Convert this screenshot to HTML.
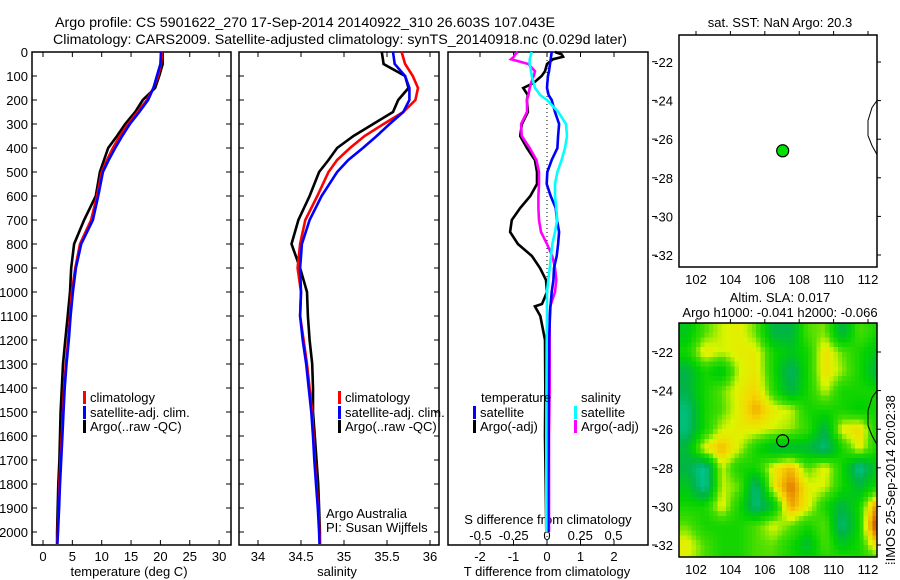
<!DOCTYPE html>
<html><head><meta charset="utf-8"><style>
html,body{margin:0;padding:0;background:#fff;}
svg{display:block;font-family:"Liberation Sans",sans-serif;}
text{fill:#000;}
</style></head><body>
<svg id="fig" width="900" height="580" viewBox="0 0 900 580" xmlns="http://www.w3.org/2000/svg">
<defs>
<clipPath id="mapclip"><rect x="679" y="323" width="198" height="234"/></clipPath>
</defs>
<text x="55" y="27" font-size="14" textLength="500" lengthAdjust="spacingAndGlyphs">Argo profile: CS 5901622_270 17-Sep-2014 20140922_310 26.603S 107.043E</text>
<text x="53" y="44" font-size="14" textLength="574" lengthAdjust="spacingAndGlyphs">Climatology: CARS2009. Satellite-adjusted climatology: synTS_20140918.nc (0.029d later)</text>
<g id="g1"></g>
<g id="g2"></g>
<g id="g3"></g>
<g id="g4"></g>
<g id="g5"></g>
<text font-size="13" transform="translate(895,565) rotate(-90)">⁞IMOS 25-Sep-2014 20:02:38</text>
</svg>
<script>
const depths=[0,50,100,150,200,250,300,350,400,450,500,600,700,800,900,1000,1100,1200,1300,1400,1500,1600,1700,1800,1900,2000,2050];
const tempArgo=[20.4,20.4,19.8,19.1,17.0,15.7,14.0,12.6,11.1,10.4,9.7,9.0,7.0,5.3,4.8,4.6,4.2,3.8,3.4,3.2,3.0,2.9,2.8,2.6,2.5,2.4,2.4];
const tempClim=[20.3,20.1,19.6,18.8,17.7,16.1,14.5,13.1,11.9,10.9,10.0,9.2,8.2,6.3,5.5,4.9,4.6,4.3,3.9,3.6,3.4,3.2,3.0,2.8,2.7,2.5,2.4];
const tempSat=[20.1,20.0,19.4,18.8,17.9,16.4,14.8,13.5,12.3,11.2,10.2,9.4,8.5,6.5,5.6,5.1,4.7,4.4,4.0,3.7,3.5,3.3,3.1,2.9,2.75,2.55,2.45];
const salArgo=[35.44,35.46,35.71,35.75,35.63,35.57,35.34,35.11,34.92,34.82,34.71,34.60,34.47,34.39,34.49,34.57,34.58,34.60,34.63,34.64,34.64,34.66,34.68,34.70,34.71,34.72,34.72];
const salClim=[35.67,35.71,35.80,35.86,35.83,35.69,35.46,35.24,35.07,34.92,34.82,34.69,34.55,34.49,34.46,34.50,34.49,34.53,34.57,34.60,34.63,34.645,34.66,34.68,34.70,34.715,34.72];
const salSat=[35.57,35.59,35.71,35.76,35.76,35.69,35.53,35.38,35.22,35.05,34.92,34.74,34.60,34.51,34.49,34.50,34.49,34.52,34.56,34.59,34.62,34.64,34.655,34.675,34.695,34.71,34.715];
const diffDepths=[0,10,20,30,50,80,100,130,150,180,200,250,300,350,400,450,500,550,600,650,700,750,800,850,900,950,1000,1050,1060,1100,1200,1400,1600,1800,2000];
const tDiffArgo=[0.24,0.44,0.48,0.18,0,-0.06,-0.16,-0.41,-0.71,-0.57,-0.6,-0.57,-0.75,-0.8,-0.6,-0.36,-0.3,-0.3,-0.5,-0.8,-1.05,-1.1,-0.87,-0.45,-0.21,-0.03,0,-0.15,-0.36,-0.2,-0.06,-0.05,-0.06,-0.04,-0.02];
const tDiffSat=[0.14,0.13,0.12,0.11,0.09,0.06,0.03,0.01,0,0.05,0.14,0.24,0.36,0.33,0.31,0.14,0.01,-0.01,0.11,0.26,0.3,0.36,0.33,0.29,0.21,0.19,0.14,0.11,0.1,0.09,0.06,0.05,0.05,0.04,0.04];
const sDiffSat=[-0.115,-0.12,-0.125,-0.13,-0.13,-0.12,-0.115,-0.1,-0.09,-0.05,0,0.085,0.143,0.15,0.135,0.11,0.078,0.06,0.06,0.07,0.077,0.06,0.04,0.03,0.02,0.01,0,0,0,0,-0.002,-0.004,-0.005,-0.005,-0.005];
const sDiffArgo=[-0.22,-0.24,-0.25,-0.27,-0.14,-0.09,-0.1,-0.12,-0.13,-0.14,-0.15,-0.15,-0.195,-0.19,-0.13,-0.08,-0.06,-0.06,-0.065,-0.065,-0.06,-0.045,0,0.04,0.06,0.07,0.06,0.03,0.025,0.02,0.02,0.02,0.015,0.015,0.015];
const tempTicks=[0,5,10,15,20,25,30];
const salTicks=[34,34.5,35,35.5,36];
const salTickLabels=["34","34.5","35","35.5","36"];
const tDiffTicks=[-2,-1,0,1,2];
const sDiffTicks=[-0.5,-0.25,0,0.25,0.5];
const sDiffTickLabels=["-0.5","-0.25","0","0.25","0.5"];
const depthTicks=[0,100,200,300,400,500,600,700,800,900,1000,1100,1200,1300,1400,1500,1600,1700,1800,1900,2000];
const lonTicks=[102,104,106,108,110,112];
const latTicks=[22,24,26,28,30,32];
const argoLon=107.04, argoLat=26.6;
const slaLats=[21,22,23,24,25,26,27,28,29,30,31,32,33];
const slaLons=[101.5,102.5,103.5,104.5,105.5,106.5,107.5,108.5,109.5,110.5,111.5,112.5];
const slaRow0=[-0.5,0.5,1.0,1.2,0.6,-1,-1,0.5,0.7,-1,0.5,0];
const slaRow1=[0,1.3,1.0,1.2,1.2,0,-0.5,0,1.4,0.6,0,-0.5];
const slaRow2=[-1,0,-0.5,1.0,1.3,0,-1.3,0,1.4,0.8,0,-1];
const slaRow3=[-1,0,0.6,1.2,1.5,0.2,-1,0,1,0,0,0];
const slaRow4=[-1.5,0,0.5,1.2,1.9,1.2,1,0,0,0,-0.3,0];
const slaRow5=[-1.5,0,1,1.2,1.2,1.0,0.8,0.3,-1,1.2,1.5,0];
const slaRow6=[-0.8,1.2,1.8,1,0,-0.8,-0.8,-0.8,-1.5,0,1.2,0];
const slaRow7=[-1,-1.8,1,0,0,1.2,1.8,0.5,1.2,0,-1.8,-0.5];
const slaRow8=[-0.5,-1.8,1,0.6,-1.5,1.2,2.4,1.2,1,0,-0.8,0];
const slaRow9=[0,0,1.2,0,-1.5,-0.5,2,1.2,0,-1,0,2.2];
const slaRow10=[0.6,0,0,0,0.5,1.1,0.6,0,0.6,-1.5,0,3];
const slaRow11=[1.2,0.5,0,0,0.5,0.6,0,-0.8,0.5,-0.5,0,1.5];
const slaRow12=[1,0.5,0,0,0.5,0.5,0,0,0,0.5,0,0];
const slaGrid=[slaRow0,slaRow1,slaRow2,slaRow3,slaRow4,slaRow5,slaRow6,slaRow7,slaRow8,slaRow9,slaRow10,slaRow11,slaRow12];

const NS='http://www.w3.org/2000/svg';
function mk(p,tag,at,txt){const e=document.createElementNS(NS,tag);for(const k in at)e.setAttribute(k,at[k]);if(txt!==undefined)e.textContent=txt;p.appendChild(e);return e;}
const yD=d=>52+d*0.24;
const PT=52,PB=545;
function frame(g,l,r,name){const e=mk(g,'rect',{x:l,y:PT,width:r-l,height:PB-PT,fill:'none',stroke:'#000','stroke-width':1.5});}
function tx(g,x,y,s,anchor,name,size){const e=mk(g,'text',{x:x,y:y,'font-size':size||13,'text-anchor':anchor||'start'},s);return e;}
function line(g,xs,ys,color,name,w){const pts=xs.map((x,i)=>x.toFixed(1)+','+ys[i].toFixed(1)).join(' ');const e=mk(g,'polyline',{points:pts,fill:'none',stroke:color,'stroke-width':w||2.6,'stroke-linejoin':'miter'});}
function legend(g,x,y,color,label,name){const m=mk(g,'rect',{x:x,y:y-6,width:3,height:13,fill:color});tx(g,x+7,y+5,label,'start',name);}
function yticks(g,l,r,labels){depthTicks.forEach(d=>{const y=yD(d);mk(g,'line',{x1:l,y1:y,x2:l+5,y2:y,stroke:'#000'});mk(g,'line',{x1:r,y1:y,x2:r-5,y2:y,stroke:'#000'});if(labels)tx(g,28,y+5,String(d),'end','depth-tick-label');});}

// Panel 1 temperature
const g1=document.getElementById('g1');
const xT=t=>43+t*5.87;
frame(g1,32,231,'temperature-plot-frame');yticks(g1,32,231,true);
tempTicks.forEach(t=>{const x=xT(t);mk(g1,'line',{x1:x,y1:PB,x2:x,y2:PB-5,stroke:'#000'});mk(g1,'line',{x1:x,y1:PT,x2:x,y2:PT+5,stroke:'#000'});tx(g1,x,561,String(t),'middle','temperature-tick-label');});
tx(g1,129,576,'temperature (deg C)','middle','temperature-axis-title');
const yd=depths.map(yD);
line(g1,tempArgo.map(xT),yd,'#000','temperature-argo-line');
line(g1,tempClim.map(xT),yd,'#f00','temperature-climatology-line');
line(g1,tempSat.map(xT),yd,'#00f','temperature-satellite-line');
legend(g1,83,397,'#f00','climatology','legend-climatology');
legend(g1,83,412,'#00f','satellite-adj. clim.','legend-satellite');
legend(g1,83,426,'#000','Argo(..raw -QC)','legend-argo');

// Panel 2 salinity
const g2=document.getElementById('g2');
const xS=s=>258+(s-34)*86;
frame(g2,239,439,'salinity-plot-frame');yticks(g2,239,439,false);
salTicks.forEach((s,i)=>{const x=xS(s);mk(g2,'line',{x1:x,y1:PB,x2:x,y2:PB-5,stroke:'#000'});mk(g2,'line',{x1:x,y1:PT,x2:x,y2:PT+5,stroke:'#000'});tx(g2,x,561,salTickLabels[i],'middle','salinity-tick-label');});
tx(g2,337,576,'salinity','middle','salinity-axis-title');
line(g2,salArgo.map(xS),yd,'#000','salinity-argo-line');
line(g2,salClim.map(xS),yd,'#f00','salinity-climatology-line');
line(g2,salSat.map(xS),yd,'#00f','salinity-satellite-line');
legend(g2,338,397,'#f00','climatology','legend-climatology');
legend(g2,338,412,'#00f','satellite-adj. clim.','legend-satellite');
legend(g2,338,426,'#000','Argo(..raw -QC)','legend-argo');
tx(g2,326,518,'Argo Australia','start','credit-argo-australia');
tx(g2,326,532,'PI: Susan Wijffels','start','credit-pi');

// Panel 3 differences
const g3=document.getElementById('g3');
const xTd=t=>547+t*33.5, xSd=s=>547+s*133;
frame(g3,448,648,'difference-plot-frame');
[61.7,100.4,139.1,177.8,216.5,255.2,351.7,390.4,429.1,467.8,506.5,545].forEach(y=>mk(g3,'line',{x1:652,y1:y,x2:657,y2:y,stroke:'#000'}));
tDiffTicks.forEach(t=>{const x=xTd(t);mk(g3,'line',{x1:x,y1:PB,x2:x,y2:PB-5,stroke:'#000'});mk(g3,'line',{x1:x,y1:PT,x2:x,y2:PT+5,stroke:'#000'});tx(g3,x,561,String(t),'middle','t-diff-tick-label');});
sDiffTicks.forEach((s,i)=>{tx(g3,xSd(s),540,sDiffTickLabels[i],'middle','s-diff-tick-label');});
tx(g3,547,576,'T difference from climatology','middle','t-diff-axis-title');
tx(g3,548,524,'S difference from climatology','middle','s-diff-axis-title');
mk(g3,'line',{x1:547,y1:PT,x2:547,y2:PB,stroke:'#000','stroke-dasharray':'1,3'});
const ydd=diffDepths.map(yD);
line(g3,tDiffArgo.map(xTd),ydd,'#000','t-diff-argo-line');
line(g3,sDiffArgo.map(xSd),ydd,'#f0f','s-diff-argo-line');
line(g3,tDiffSat.map(xTd),ydd,'#00f','t-diff-satellite-line');
line(g3,sDiffSat.map(xSd),ydd,'#0ff','s-diff-satellite-line');
tx(g3,481,402,'temperature','start','legend-temperature-header');
tx(g3,581,402,'salinity','start','legend-salinity-header');
legend(g3,473,412,'#00f','satellite','legend-t-satellite');
legend(g3,473,426,'#000','Argo(-adj)','legend-t-argo');
legend(g3,574,412,'#0ff','satellite','legend-s-satellite');
legend(g3,574,426,'#f0f','Argo(-adj)','legend-s-argo');

// Maps
function mapAxes(g,top,bot,y22,prefix){
  const xL=lon=>696+(lon-102)*17.2, yL=lat=>y22+(lat-22)*19.3;
  const f=mk(g,'rect',{x:679,y:top,width:198,height:bot-top,fill:'none',stroke:'#000','stroke-width':1.5});
  
  
  lonTicks.forEach(l=>{const x=xL(l);mk(g,'line',{x1:x,y1:top,x2:x,y2:top-4,stroke:'#000'});tx(g,x,bot+17,String(l),'middle',prefix+'-lon-label');});
  latTicks.forEach(l=>{const y=yL(l);mk(g,'line',{x1:877,y1:y,x2:881,y2:y,stroke:'#000'});tx(g,673,y+5,'-'+l,'end',prefix+'-lat-label');});
  const y0=yL(24);
  const c=mk(g,'path',{d:`M877,${y0} L872,${y0+7} L868,${y0+20} L868,${y0+35} L872,${y0+45} L877,${y0+54}`,fill:'none',stroke:'#000','stroke-width':1});
  
  
  return {xL,yL};
}
const g4=document.getElementById('g4');
tx(g4,780,27,'sat. SST: NaN Argo: 20.3','middle','sst-map-title');
const m1=mapAxes(g4,35,267,62,'sst-map');
const dot=mk(g4,'circle',{cx:m1.xL(argoLon),cy:m1.yL(argoLat),r:6,fill:'#00e000',stroke:'#000','stroke-width':1.2});



const g5=document.getElementById('g5');
tx(g5,780,302,'Altim. SLA: 0.017','middle','sla-map-title');
tx(g5,780,317,'Argo h1000: -0.041 h2000: -0.066','middle','sla-map-subtitle');
const clipG=mk(g5,'g',{'clip-path':'url(#mapclip)'});
mk(clipG,'rect',{x:679,y:323,width:198,height:234,fill:'#10d000'});
const heat=mk(clipG,'g',{'shape-rendering':'crispEdges'});


const stops=[[-2,[0,200,170]],[-1,[0,180,70]],[-0.2,[0,210,0]],[0.5,[70,222,0]],[1.05,[220,245,0]],[1.5,[245,215,0]],[2.1,[235,150,0]],[3,[190,40,0]]];
function col(v){if(v<=stops[0][0])return stops[0][1];for(let i=1;i<stops.length;i++){if(v<=stops[i][0]){const a=stops[i-1],b=stops[i],t=(v-a[0])/(b[0]-a[0]);return a[1].map((c,k)=>Math.round(c+(b[1][k]-c)*t));}}return stops[stops.length-1][1];}
const m2={xL:lon=>696+(lon-102)*17.2,yL:lat=>352+(lat-22)*19.3};
function sample(lon,lat){
  const nr=slaGrid.length,nc=slaLons.length;
  let fi=Math.min(Math.max(lon-slaLons[0],0),nc-1), fj=Math.min(Math.max(lat-slaLats[0],0),nr-1);
  const i0=Math.min(Math.floor(fi),nc-2), j0=Math.min(Math.floor(fj),nr-2);
  const a=fi-i0,b=fj-j0;
  const g=slaGrid;
  return g[j0][i0]*(1-a)*(1-b)+g[j0][i0+1]*a*(1-b)+g[j0+1][i0]*(1-a)*b+g[j0+1][i0+1]*a*b;
}
const SUB=4;
for(let j=0;j<slaLats.length*SUB;j++){
  const lat0=slaLats[0]-0.5+j/SUB, lat1=lat0+1/SUB;
  for(let i=0;i<slaLons.length*SUB;i++){
    const lon0=slaLons[0]-0.5+i/SUB, lon1=lon0+1/SUB;
    const v=sample((lon0+lon1)/2,(lat0+lat1)/2);
    const x0=m2.xL(lon0), y0=m2.yL(lat0);
    const e=mk(heat,'rect',{x:x0.toFixed(1),y:y0.toFixed(1),width:(m2.xL(lon1)-x0+0.6).toFixed(1),height:(m2.yL(lat1)-y0+0.6).toFixed(1),fill:'rgb('+col(v).join(',')+')'});
    
    
  }
}
mapAxes(g5,323,557,352,'sla-map');
const ring=mk(g5,'circle',{cx:m2.xL(argoLon),cy:m2.yL(argoLat),r:6,fill:'none',stroke:'#000','stroke-width':1.2});


</script>
</body></html>
